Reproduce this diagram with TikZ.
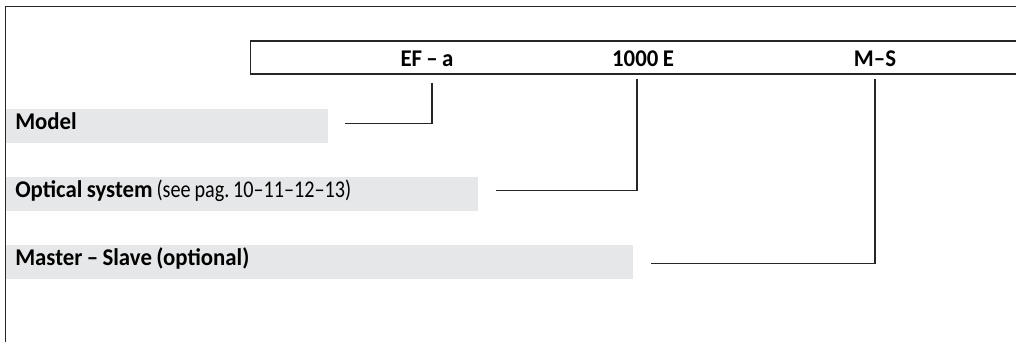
\documentclass[tikz,border=0pt]{standalone}
\usepackage{fontspec}
\setmainfont{Carlito}[FakeStretch=0.84,WordSpace=0.85,BoldFeatures={FakeStretch=0.95}]
\usetikzlibrary{calc}
\tikzset{
  px/.style={x=0.75pt,y=-0.75pt},
  frameline/.style={line width=1.1pt,draw=black!85},
  conn/.style={line width=1.1pt,draw=black!85},
  greybox/.style={fill=boxgrey,anchor=north west,inner xsep=6.75pt,inner ysep=0pt,
    minimum height=25.5pt,text height=10pt,text depth=4.7pt,align=left,
    font=\fontsize{18}{20}\selectfont\frenchspacing,
    execute at begin node={\spaceskip=0pt\xspaceskip=0pt}},
  codelbl/.style={anchor=base,inner sep=0pt,font=\bfseries\fontsize{18}{20}\selectfont},
}
\definecolor{boxgrey}{HTML}{E6E7E8}
\begin{document}
\begin{tikzpicture}[px]
\useasboundingbox (0,0) rectangle (1016,342);
% outer frame
\draw[frameline] (5.5,342) -- (5.5,6.5) -- (1016,6.5);
% code strip
\draw[frameline] (1016,41) -- (250.5,41) -- (250.5,74) -- (1016,74);
\node[codelbl] (ef) at (427,66.7) {EF – a};
\node[codelbl] (code) at (643,66.7) {1000 E};
\node[codelbl] (ms) at (875,66.7) {M–S};
% grey boxes
\node[greybox,minimum width=241.5pt,text width=228pt] (model) at (6,109) {\bfseries Model};
\node[greybox,minimum width=354pt,text width=340.5pt] (optic) at (6,177) {\textbf{Optical system} (see pag. 10–11–12–13)};
\node[greybox,minimum width=470.25pt,text width=456.75pt] (master) at (6,245) {\bfseries Master – Slave (optional)};
% connectors
\coordinate (tef) at (432,83);
\coordinate (tcode) at (637,79);
\coordinate (tms) at (875,79);
\draw[conn] (tef) |- ([xshift=12pt,yshift=1.9pt]model.east);
\draw[conn] (tcode) |- ([xshift=12.75pt,yshift=2.8pt]optic.east);
\draw[conn] (tms) |- ([xshift=12.75pt,yshift=-1pt]master.east);
\end{tikzpicture}
\end{document}
